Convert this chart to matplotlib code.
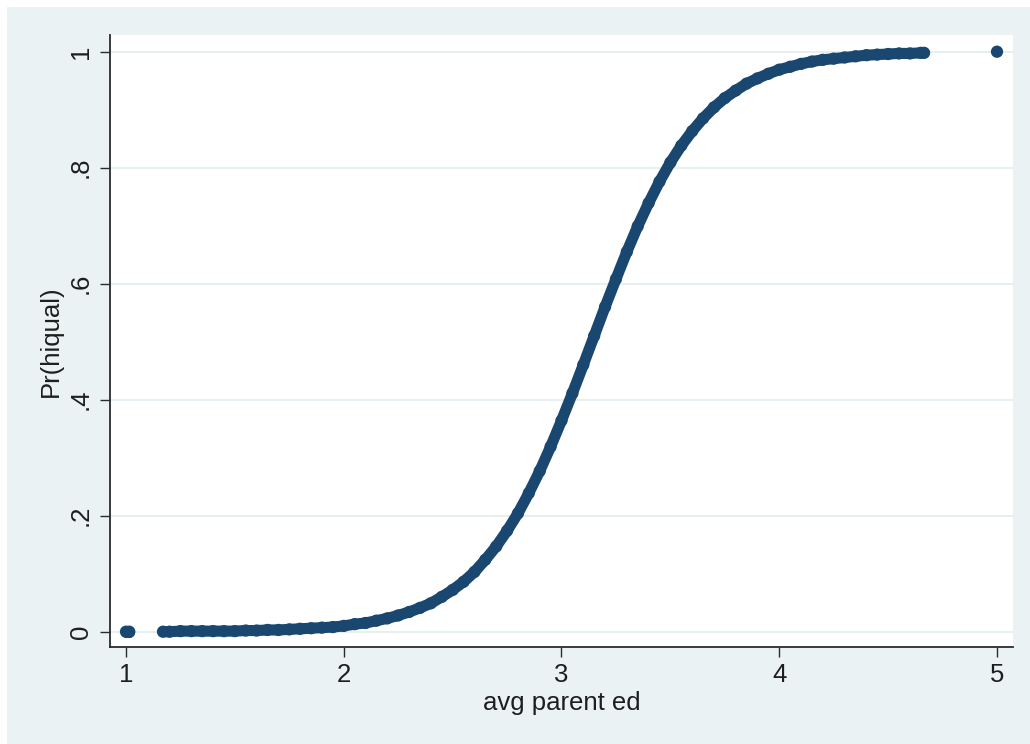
import matplotlib
matplotlib.use("Agg")
import matplotlib.pyplot as plt
from matplotlib.patches import Rectangle
import numpy as np

# ---- data ----
# average parent education (x) and predicted Pr(hiqual) (y)
avg_ed = [1.00, 1.015,
          1.17, 1.20, 1.25, 1.30, 1.35, 1.40, 1.45, 1.50, 1.55, 1.60, 1.65, 1.70, 1.75,
          1.80, 1.85, 1.90, 1.95, 2.00, 2.05, 2.10, 2.15, 2.20, 2.25, 2.30, 2.35,
          2.40, 2.45, 2.50, 2.55, 2.60, 2.65, 2.70, 2.75, 2.80, 2.85, 2.90, 2.95,
          3.00, 3.05, 3.10, 3.15, 3.20, 3.25, 3.30, 3.35, 3.40, 3.45, 3.50, 3.55,
          3.60, 3.65, 3.70, 3.75, 3.80, 3.85, 3.90, 3.95, 4.00, 4.05, 4.10, 4.15,
          4.20, 4.25, 4.30, 4.35, 4.40, 4.45, 4.50, 4.55, 4.60, 4.65, 4.665,
          5.00]
pr_hiqual = [0.000, 0.000,
             0.000, 0.000, 0.001, 0.001, 0.001, 0.001, 0.001, 0.001, 0.002, 0.002, 0.003, 0.003, 0.004,
             0.005, 0.006, 0.007, 0.008, 0.010, 0.013, 0.015, 0.019, 0.023, 0.028, 0.034, 0.041,
             0.049, 0.060, 0.072, 0.086, 0.103, 0.124, 0.147, 0.174, 0.204, 0.239, 0.277, 0.319,
             0.364, 0.411, 0.460, 0.510, 0.560, 0.608, 0.655, 0.699, 0.739, 0.776, 0.809, 0.838,
             0.863, 0.885, 0.904, 0.920, 0.933, 0.945, 0.954, 0.962, 0.969, 0.974, 0.979, 0.983,
             0.986, 0.988, 0.990, 0.992, 0.994, 0.995, 0.996, 0.997, 0.997, 0.998, 0.998,
             1.000]

x_ticks = [1, 2, 3, 4, 5]
x_ticklabels = ["1", "2", "3", "4", "5"]
y_ticks = [0, 0.2, 0.4, 0.6, 0.8, 1.0]
y_ticklabels = ["0", ".2", ".4", ".6", ".8", "1"]
x_title = "avg parent ed"
y_title = "Pr(hiqual)"

# ---- style ----
NAVY = "#1a476f"
BG = "#eaf2f3"
GRID = "#e6eff1"
AXC = "#2b2b2b"
TXT = "#1e1e1e"
FONT = ["Liberation Sans", "DejaVu Sans"]
plt.rcParams["font.family"] = FONT

W, H, DPI = 1030, 744, 100
fig = plt.figure(figsize=(W / DPI, H / DPI), dpi=DPI)
fig.patch.set_facecolor("white")
fig.add_artist(Rectangle((7 / W, 0), 1, (H - 7) / H, transform=fig.transFigure,
                         facecolor=BG, edgecolor="none", zorder=-10))

L, R, T, B = 110, 1013, 35, 647
ax = fig.add_axes([L / W, 1 - B / H, (R - L) / W, (B - T) / H])
ax.set_facecolor("white")

x = np.array(avg_ed)
y = np.array(pr_hiqual)

# connect neighbouring observations that form the dense band
gap = np.diff(x) > 0.1
start = 0
for i in range(len(x)):
    if i == len(x) - 1 or gap[i]:
        seg_x, seg_y = x[start:i + 1], y[start:i + 1]
        if len(seg_x) > 1:
            ax.plot(seg_x, seg_y, color=NAVY, lw=8.0, solid_capstyle="round",
                    solid_joinstyle="round", zorder=3)
        start = i + 1
ax.scatter(x, y, s=78, color=NAVY, edgecolors="none", zorder=4)

ax.set_xlim(1 - 16 / 217.75, 5 + 16 / 217.75)
ax.set_ylim(-15.3 / 580, 1 + 16.7 / 580)

ax.set_xticks(x_ticks)
ax.set_xticklabels(x_ticklabels)
ax.set_yticks(y_ticks)
ax.set_yticklabels(y_ticklabels, rotation=90, va="center")

ax.tick_params(axis="both", direction="out", length=7.5, width=1.0, color=AXC,
               labelsize=18.5, labelcolor=TXT)
ax.tick_params(axis="x", pad=4)
ax.tick_params(axis="y", pad=5)

ax.grid(True, axis="y", color=GRID, lw=1.4, zorder=0)
ax.grid(False, axis="x")
ax.set_axisbelow(True)

for s in ["top", "right"]:
    ax.spines[s].set_visible(False)
for s in ["left", "bottom"]:
    ax.spines[s].set_color(AXC)
    ax.spines[s].set_linewidth(1.3)

ax.set_xlabel(x_title, fontsize=18.5, color=TXT)
ax.set_ylabel(y_title, fontsize=18.5, color=TXT)
ax.xaxis.set_label_coords(0.5, (B - 691) / (B - T), transform=ax.transAxes)
ax.xaxis.label.set_va("top")
ax.yaxis.set_label_coords((63 - L) / (R - L), 0.5, transform=ax.transAxes)

fig.savefig("out.png", dpi=DPI, facecolor=fig.get_facecolor())
